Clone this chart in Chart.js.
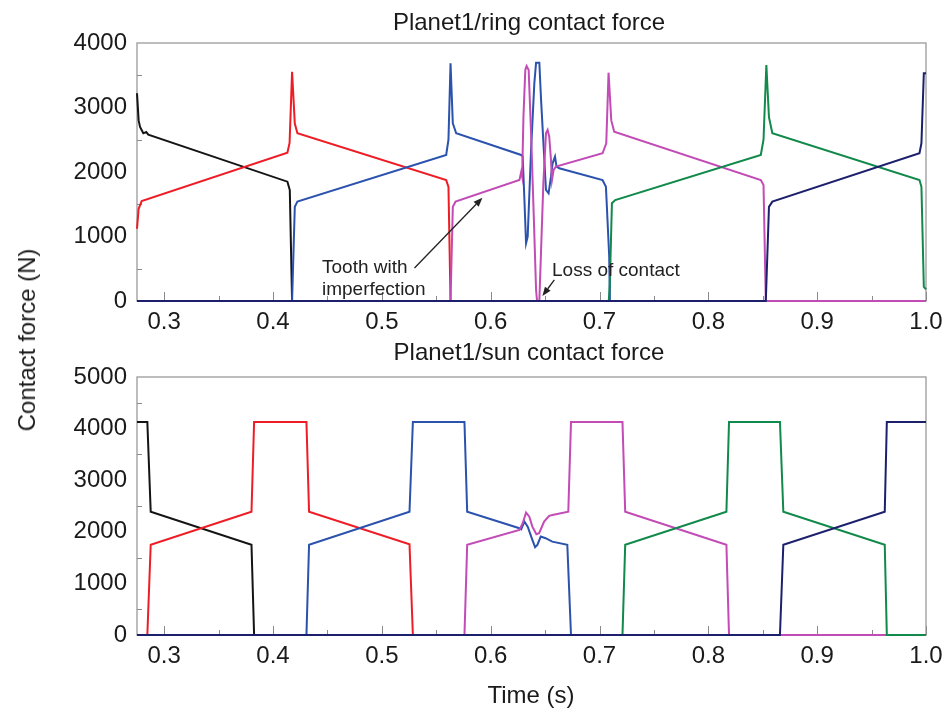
<!DOCTYPE html>
<html><head><meta charset="utf-8">
<script src="https://cdn.jsdelivr.net/npm/chart.js@4.4.1/dist/chart.umd.min.js"></script>
<style>
html,body{margin:0;padding:0;background:#fff;}
body{width:947px;height:712px;position:relative;overflow:hidden;font-family:"Liberation Sans",Arial,sans-serif;color:#1a1a1a;}
canvas{position:absolute;left:0;}
.t{position:absolute;white-space:nowrap;line-height:1;}
.c{transform:translateX(-50%);}
</style></head><body>
<canvas id="ring" width="947" height="340" style="top:0px"></canvas>
<canvas id="sun" width="947" height="372" style="top:340px"></canvas>
<div class="t c" style="font-size:24px;left:529px;top:10px">Planet1/ring contact force</div>
<div class="t c" style="font-size:24px;left:529px;top:340px">Planet1/sun contact force</div>
<div class="t c" style="font-size:24px;left:531px;top:683px">Time (s)</div>
<div class="t" style="font-size:24px;left:27px;top:340px;transform:translate(-50%,-50%) rotate(-90deg)">Contact force (N)</div>
<div class="t" style="font-size:19px;left:322px;top:256px;line-height:22px;color:#222">Tooth with<br>imperfection</div>
<div class="t" style="font-size:19px;left:552px;top:260px;color:#222">Loss of contact</div>
<script>
// ---- axis ticks ----
const xTickLabels = [0.3, 0.4, 0.5, 0.6, 0.7, 0.8, 0.9, 1.0];
const xMinorTicks = [0.35, 0.45, 0.55, 0.65, 0.75, 0.85, 0.95];
const ringYTicks = [0, 1000, 2000, 3000, 4000];
const ringYMinor = [500, 1500, 2500, 3500];
const sunYTicks = [0, 1000, 2000, 3000, 4000, 5000];
const sunYMinor = [500, 1500, 2500, 3500, 4500];

// ---- Planet1/ring contact force (time s, force N) ----
const ringBlackT = [0.275, 0.2765, 0.2778, 0.2808, 0.2835, 0.2854, 0.4132, 0.4154, 0.4175, 1.0];
const ringBlackF = [3220, 2800, 2700, 2600, 2620, 2580, 1850, 1720, 0, 0];
const ringRedT = [0.275, 0.2765, 0.2793, 0.4132, 0.4152, 0.4175, 0.4200, 0.4224, 0.5591, 0.5612, 0.5631, 1.0];
const ringRedF = [1120, 1430, 1550, 2300, 2450, 3555, 2750, 2600, 1875, 1770, 0, 0];
const ringBlueT = [0.275, 0.4175, 0.4200, 0.4224, 0.5591, 0.5612, 0.5631, 0.5652, 0.5683, 0.6280, 0.6294, 0.6310, 0.6325, 0.6340, 0.6371, 0.6401, 0.6417, 0.6447, 0.6463, 0.6493, 0.6508, 0.6532, 0.6554, 0.6569, 0.6591, 0.6605, 0.6630, 0.7028, 0.7059, 0.7089, 0.7095, 1.0];
const ringBlueF = [0, 0, 1460, 1540, 2265, 2500, 3685, 2755, 2600, 2264, 2240, 1566, 895, 998, 2341, 3375, 3695, 3695, 3116, 2186, 1721, 1670, 1927, 2135, 2238, 2083, 2057, 1875, 1770, 690, 0, 0];
const ringMagentaT = [0.275, 0.5631, 0.5652, 0.5677, 0.6264, 0.6280, 0.6289, 0.6301, 0.6318, 0.6330, 0.6349, 0.6371, 0.6396, 0.6417, 0.6426, 0.6447, 0.6463, 0.6484, 0.6508, 0.6523, 0.6538, 0.6554, 0.6563, 0.6578, 0.6600, 0.7028, 0.7062, 0.7083, 0.7108, 0.7135, 0.8482, 0.8507, 0.8528, 1.0];
const ringMagentaF = [0, 0, 1460, 1540, 1876, 2000, 1927, 2857, 3581, 3643, 3581, 2600, 1307, 170, 0, 0, 791, 1824, 2600, 2651, 2547, 2186, 1876, 2031, 2083, 2290, 2445, 3540, 2800, 2625, 1875, 1800, 0, 0];
const ringGreenT = [0.275, 0.7085, 0.7095, 0.7114, 0.7144, 0.8482, 0.8507, 0.8533, 0.8557, 0.8588, 0.9940, 0.9958, 0.9980, 1.0];
const ringGreenF = [0, 0, 275, 1515, 1565, 2265, 2500, 3660, 2850, 2600, 1875, 1770, 220, 180];
const ringNavyT = [0.275, 0.8528, 0.8557, 0.8588, 0.9940, 0.9958, 0.9980, 1.0];
const ringNavyF = [0, 0, 1460, 1540, 2290, 2445, 3530, 3530];

// ---- Planet1/sun contact force (time s, force N) ----
const sunBlackT = [0.275, 0.2845, 0.2876, 0.3802, 0.3826, 1.0];
const sunBlackF = [4130, 4130, 2390, 1750, 0, 0];
const sunRedT = [0.275, 0.2845, 0.2876, 0.3802, 0.3826, 0.4307, 0.4331, 0.5254, 0.5285, 1.0];
const sunRedF = [0, 0, 1750, 2390, 4130, 4130, 2390, 1760, 0, 0];
const sunBlueT = [0.275, 0.4307, 0.4331, 0.5254, 0.5285, 0.5759, 0.5784, 0.6264, 0.6280, 0.6310, 0.6340, 0.6383, 0.6408, 0.6429, 0.6460, 0.6505, 0.6566, 0.6704, 0.6738, 1.0];
const sunBlueF = [0, 0, 1750, 2390, 4130, 4130, 2390, 2070, 2050, 2197, 2100, 1843, 1702, 1747, 1907, 1876, 1810, 1747, 0, 0];
const sunMagentaT = [0.275, 0.5759, 0.5784, 0.6264, 0.6294, 0.6325, 0.6355, 0.6383, 0.6420, 0.6445, 0.6491, 0.6537, 0.6567, 0.6713, 0.6738, 0.7211, 0.7236, 0.8166, 0.8190, 1.0];
const sunMagentaF = [0, 0, 1750, 2037, 2166, 2372, 2294, 2100, 1953, 1973, 2197, 2308, 2327, 2390, 4130, 4130, 2390, 1750, 0, 0];
const sunGreenT = [0.275, 0.7211, 0.7236, 0.8166, 0.8190, 0.8658, 0.8689, 0.9621, 0.9640, 1.0];
const sunGreenF = [0, 0, 1750, 2390, 4130, 4130, 2390, 1750, 0, 0];
const sunNavyT = [0.275, 0.8658, 0.8689, 0.9621, 0.9640, 1.0];
const sunNavyF = [0, 0, 1750, 2390, 4130, 4130];

// ---- annotation arrows (data coords: time, force) ----
const arrowToothTail = [0.530, 512];
const arrowToothHead = [0.5924, 1600];
const arrowLossTail = [0.6585, 326];
const arrowLossHead = [0.6475, 78];

const COLORS = {black:'#141414', red:'#ee1d25', blue:'#2b52ad', magenta:'#c24bb6', green:'#10894a', navy:'#1c1f6c'};

function pts(t, f) { return t.map((v, i) => ({x: v, y: f[i]})); }
function ds(t, f, color, order) {
  return {data: pts(t, f), borderColor: color, borderWidth: 2, pointRadius: 0, tension: 0, fill: false, order: order, clip: 4};
}

const frameTicks = {
  id: 'frameTicks',
  beforeDatasetsDraw(chart, args, opts) {
    const ctx = chart.ctx, a = chart.chartArea, x = chart.scales.x, y = chart.scales.y;
    ctx.save();
    ctx.strokeStyle = '#9a9a9a';
    ctx.lineWidth = 1.3;
    ctx.strokeRect(a.left, a.top, a.right - a.left, a.bottom - a.top);
    ctx.beginPath();
    ctx.strokeStyle = '#8a8a8a';
    ctx.lineWidth = 1;
    opts.xMajor.forEach(v => { const p = Math.round(x.getPixelForValue(v)) + 0.5; ctx.moveTo(p, a.bottom); ctx.lineTo(p, a.bottom - 9); });
    opts.xMinor.forEach(v => { const p = Math.round(x.getPixelForValue(v)) + 0.5; ctx.moveTo(p, a.bottom); ctx.lineTo(p, a.bottom - 5); });
    opts.yMinor.forEach(v => { const p = Math.round(y.getPixelForValue(v)) + 0.5; ctx.moveTo(a.left, p); ctx.lineTo(a.left + 5, p); });
    ctx.stroke();
    ctx.restore();
  }
};

const arrows = {
  id: 'arrows',
  afterDatasetsDraw(chart, args, opts) {
    if (!opts.list) return;
    const ctx = chart.ctx, x = chart.scales.x, y = chart.scales.y;
    ctx.save();
    ctx.strokeStyle = '#222'; ctx.fillStyle = '#222'; ctx.lineWidth = 1.3;
    opts.list.forEach(([tail, head]) => {
      const x0 = x.getPixelForValue(tail[0]), y0 = y.getPixelForValue(tail[1]);
      const x1 = x.getPixelForValue(head[0]), y1 = y.getPixelForValue(head[1]);
      const ang = Math.atan2(y1 - y0, x1 - x0), L = 9, W = 3.5;
      const bx = x1 - L * Math.cos(ang), by = y1 - L * Math.sin(ang);
      ctx.beginPath(); ctx.moveTo(x0, y0); ctx.lineTo(bx, by); ctx.stroke();
      ctx.beginPath();
      ctx.moveTo(x1, y1);
      ctx.lineTo(bx + W * Math.sin(ang), by - W * Math.cos(ang));
      ctx.lineTo(bx - W * Math.sin(ang), by + W * Math.cos(ang));
      ctx.closePath(); ctx.fill();
    });
    ctx.restore();
  }
};

function zeroPad(s) { s.paddingLeft = 0; s.paddingRight = 0; s.paddingTop = 0; s.paddingBottom = 0; }

function makeChart(id, datasets, yMax, yTicks, yMinor, padTop, xHeight, arrowList) {
  return new Chart(document.getElementById(id), {
    type: 'line',
    data: {datasets: datasets},
    options: {
      responsive: false, animation: false, devicePixelRatio: 1,
      layout: {padding: {top: padTop, right: 21, bottom: 0, left: 0}, autoPadding: false},
      plugins: {legend: {display: false}, tooltip: {enabled: false}, title: {display: false},
        frameTicks: {xMajor: xTickLabels, xMinor: xMinorTicks, yMinor: yMinor},
        arrows: {list: arrowList}},
      scales: {
        x: {type: 'linear', min: 0.275, max: 1.0, offset: false,
          grid: {display: false, drawTicks: false}, border: {display: false},
          afterBuildTicks: s => { s.ticks = xTickLabels.map(v => ({value: v})); },
          afterFit: s => { s.height = xHeight; zeroPad(s); },
          ticks: {padding: 7, color: '#1a1a1a', maxRotation: 0, font: {family: "'Liberation Sans', Arial, sans-serif", size: 24}, callback: v => Number(v).toFixed(1)}},
        y: {type: 'linear', min: 0, max: yMax,
          grid: {display: false, drawTicks: false}, border: {display: false},
          afterBuildTicks: s => { s.ticks = yTicks.map(v => ({value: v})); },
          afterFit: s => { s.width = 137; zeroPad(s); },
          ticks: {padding: 10, color: '#1a1a1a', font: {family: "'Liberation Sans', Arial, sans-serif", size: 24}, callback: v => String(v)}}
      }
    },
    plugins: [frameTicks, arrows]
  });
}

makeChart('ring', [
  ds(ringBlackT, ringBlackF, COLORS.black, 6),
  ds(ringRedT, ringRedF, COLORS.red, 5),
  ds(ringBlueT, ringBlueF, COLORS.blue, 4),
  ds(ringMagentaT, ringMagentaF, COLORS.magenta, 3),
  ds(ringGreenT, ringGreenF, COLORS.green, 2),
  ds(ringNavyT, ringNavyF, COLORS.navy, 1)
], 4000, ringYTicks, ringYMinor, 43, 39, [[arrowToothTail, arrowToothHead], [arrowLossTail, arrowLossHead]]);

makeChart('sun', [
  ds(sunBlackT, sunBlackF, COLORS.black, 6),
  ds(sunRedT, sunRedF, COLORS.red, 5),
  ds(sunBlueT, sunBlueF, COLORS.blue, 4),
  ds(sunMagentaT, sunMagentaF, COLORS.magenta, 3),
  ds(sunGreenT, sunGreenF, COLORS.green, 2),
  ds(sunNavyT, sunNavyF, COLORS.navy, 1)
], 5000, sunYTicks, sunYMinor, 37, 77, null);
</script>
</body></html>
